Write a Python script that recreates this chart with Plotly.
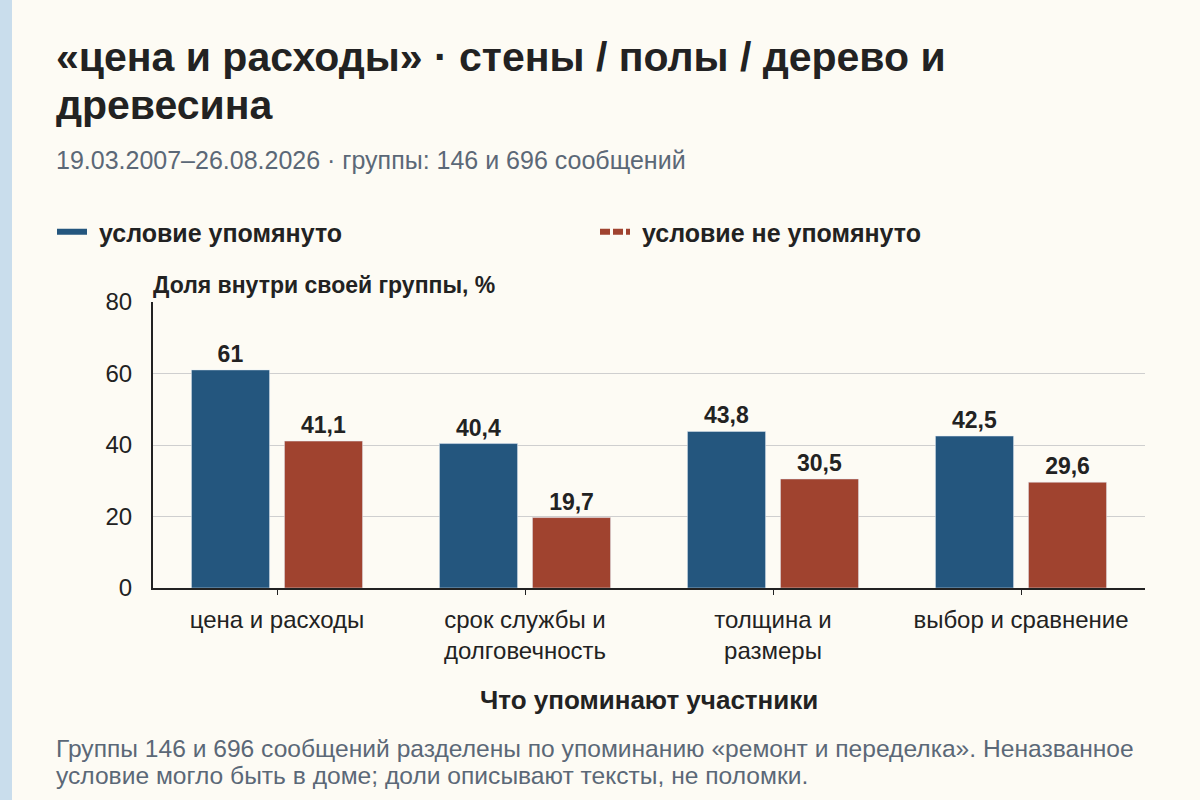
import plotly.graph_objects as go

# данные
categories = ["цена и расходы", "срок службы и<br>долговечность", "толщина и<br>размеры", "выбор и сравнение"]
mentioned = [61, 40.4, 43.8, 42.5]
not_mentioned = [41.1, 19.7, 30.5, 29.6]
y_ticks = [0, 20, 40, 60, 80]

BLUE = "#24567e"
RED = "#a0432f"
BG = "#fdfbf4"
TEXT = "#222222"
MUTED = "#5b6877"
FONT = "Liberation Sans, Arial, sans-serif"

W, H = 1200, 800
L, R, T, B = 153, 55, 302, 212
pw, ph = W - L - R, H - T - B


def px_x(x):
    return (x - L) / pw


def px_y(y):
    return (H - B - y) / ph


fig = go.Figure()

for vals, color in [(mentioned, BLUE), (not_mentioned, RED)]:
    fig.add_trace(go.Bar(
        x=categories, y=vals, marker_color=color, showlegend=False,
        texttemplate="%{y}", textposition="outside",
        textfont=dict(size=23, color=TEXT, family=FONT, weight="bold"),
        cliponaxis=False,
    ))

# легенда линиями, две отдельные легенды в одну строку
fig.add_trace(go.Scatter(x=[None], y=[None], mode="lines", name="\u00a0условие упомянуто",
                         line=dict(color=BLUE, width=6), legend="legend"))
fig.add_trace(go.Scatter(x=[None], y=[None], mode="lines", name="\u00a0условие не упомянуто",
                         line=dict(color=RED, width=6, dash="10px,3px"), legend="legend2"))

legend_style = dict(
    orientation="h", xref="container", yref="container",
    y=1 - 232 / H, xanchor="left", yanchor="middle",
    font=dict(size=25, color=TEXT, weight="bold"),
    bgcolor="rgba(0,0,0,0)",
)

fig.update_layout(
    width=W, height=H,
    margin=dict(l=L, r=R, t=T, b=B),
    paper_bgcolor=BG, plot_bgcolor=BG,
    font=dict(family=FONT, color=TEXT, size=24),
    separators=", ",
    barmode="group", bargap=0.25, bargroupgap=0.16,
    legend=dict(x=52 / W, **legend_style),
    legend2=dict(x=595 / W, **legend_style),
    xaxis=dict(
        showline=True, linecolor=TEXT, linewidth=2,
        ticks="outside", ticklen=5, tickcolor=TEXT,
        tickfont=dict(size=24, color=TEXT), ticklabelstandoff=4,
        showgrid=False, fixedrange=True,
    ),
    yaxis=dict(
        range=[0, 80], tickvals=y_ticks,
        showline=True, linecolor=TEXT, linewidth=2,
        showgrid=True, gridcolor="#cfcfcf", gridwidth=1,
        tickfont=dict(size=24, color=TEXT), ticks="", ticklabelstandoff=14,
        zeroline=False, fixedrange=True,
    ),
)

# светлая полоса слева
fig.add_shape(type="rect", xref="paper", yref="paper",
              x0=px_x(0), x1=px_x(12), y0=px_y(H), y1=px_y(0),
              fillcolor="#c9ddec", line_width=0, layer="below")

annotations = [
    dict(text="«цена и расходы» · стены / полы / дерево и", x=54, y=57, size=41, color=TEXT, bold=True),
    dict(text="древесина", x=54, y=105, size=41, color=TEXT, bold=True),
    dict(text="19.03.2007–26.08.2026 · группы: 146 и 696 сообщений", x=54, y=160, size=25, color=MUTED),
    dict(text="Доля внутри своей группы, %", x=151, y=285, size=23, color=TEXT, bold=True),
    dict(text="Группы 146 и 696 сообщений разделены по упоминанию «ремонт и переделка». Неназванное",
         x=54, y=748, size=24.6, color=MUTED),
    dict(text="условие могло быть в доме; доли описывают тексты, не поломки.", x=54, y=775, size=24.6, color=MUTED),
]
for a in annotations:
    fig.add_annotation(
        text=a["text"], xref="paper", yref="paper",
        x=px_x(a["x"]), y=px_y(a["y"]), xanchor="left", yanchor="middle",
        showarrow=False,
        font=dict(size=a["size"], color=a["color"], family=FONT,
                  weight="bold" if a.get("bold") else "normal"),
    )

fig.add_annotation(
    text="Что упоминают участники", xref="paper", yref="paper",
    x=0.5, y=px_y(700), xanchor="center", yanchor="middle", showarrow=False,
    font=dict(size=26, color=TEXT, family=FONT, weight="bold"),
)

fig.write_html("out.html", config={"displayModeBar": False},
               post_script="document.body.style.margin='0';")
